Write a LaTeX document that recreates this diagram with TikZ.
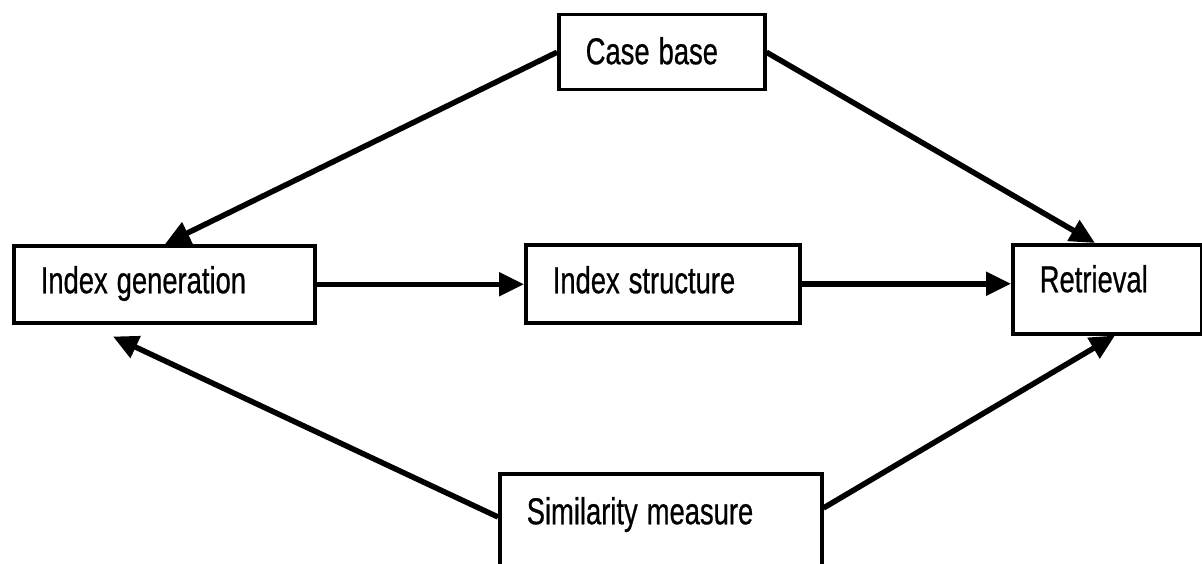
\documentclass[tikz,border=0pt]{standalone}
\usepackage{fontspec}
\setmainfont{Liberation Sans}[FakeStretch=0.73, FakeBold=0.6]
\usetikzlibrary{arrows.meta,calc}
\newcommand{\labelfont}{\fontsize{37.5}{40}\selectfont}
\newcommand{\gap}{\hspace{9pt}}
\tikzset{
  box/.style={draw=black, line width=3.5pt, fill=white, rectangle, anchor=north west,
    inner xsep=27pt, inner ysep=0pt, align=left, text height=27pt,
    font=\labelfont},
  flow/.style={line width=5.5pt, -{Triangle[length=25pt,width=23pt]}}
}
\begin{document}
\begin{tikzpicture}[x=1pt,y=-1pt]
\useasboundingbox (0,0) rectangle (1202,564);
% boxes: top-left corner, width and height
\node[box, text width=152pt, minimum height=75pt, text height=30pt, text depth=6pt] (cb) at (557,13) {Case\gap base};
\node[box, text width=247pt, minimum height=77pt, text depth=9pt] (ig) at (12,244) {Index\gap generation};
\node[box, text width=220pt, minimum height=78pt, text depth=8pt] (is) at (524,243) {Index\gap structure};
\node[box, text width=135pt, minimum height=89pt, text depth=21pt] (rt) at (1011,243) {Retrieval};
\node[box, text width=268pt, minimum height=98pt, text depth=24pt] (sm) at (498,472) {Similarity\gap measure};
% connector end points
\coordinate (igtop) at ($(ig.north west)+(153,0)$);
\coordinate (rttop) at ($(rt.north west)+(84,0)$);
\coordinate (igbot) at ($(ig.south west)+(101,12)$);
\coordinate (rtbot) at ($(rt.south west)+(104,0)$);
\coordinate (smleft) at ($(sm.north west)+(0,45)$);
\coordinate (smright) at ($(sm.north east)+(0,36)$);
% connectors
\draw[flow] (cb.west) -- (igtop);
\draw[flow] (cb.east) -- (rttop);
\draw[flow] (ig.east) -- (ig.east -| is.west);
\draw[flow] (is.east) -- (is.east -| rt.west);
\draw[flow] (smleft) -- (igbot);
\draw[flow] (smright) -- (rtbot);
\end{tikzpicture}
\end{document}
